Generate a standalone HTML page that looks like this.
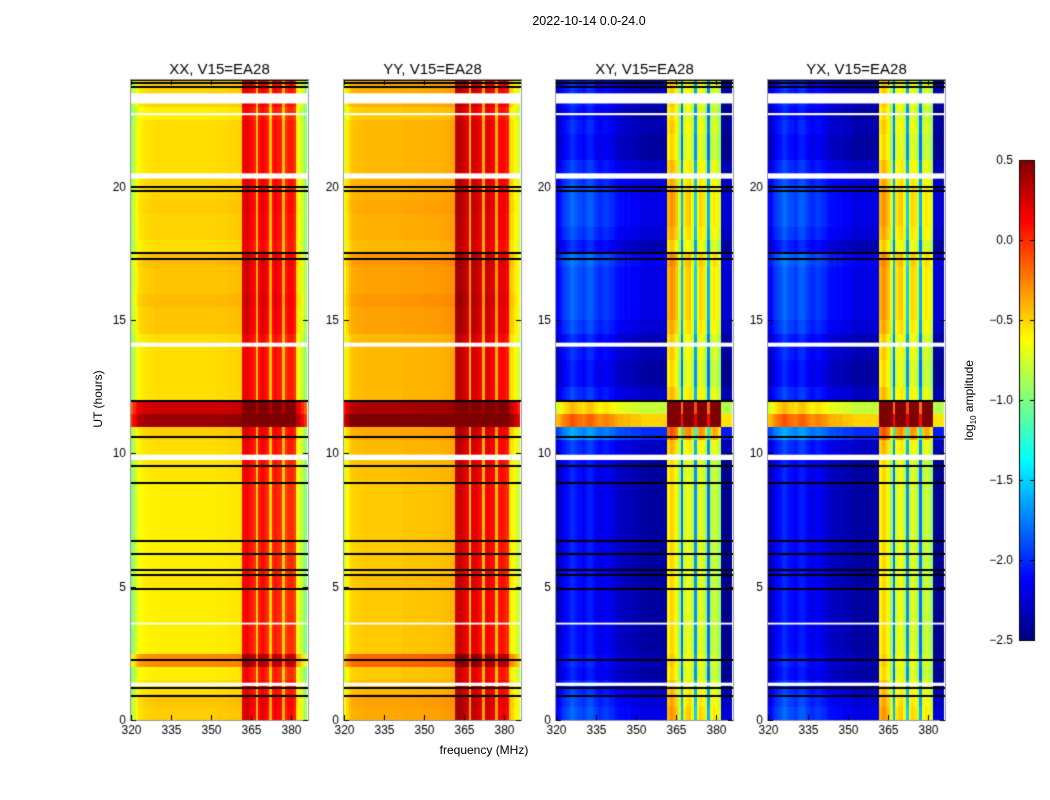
<!DOCTYPE html>
<html><head><meta charset="utf-8"><style>
body{margin:0;background:#fff;font-family:"Liberation Sans","DejaVu Sans",sans-serif;}
#wrap{position:relative;width:1050px;height:800px;overflow:hidden;background:#fff}
.t{position:absolute;font-size:12px;color:#000;white-space:nowrap}
canvas{position:absolute}
</style></head><body>
<div id="wrap">
<div class="t" style="left:489px;top:14px;width:200px;text-align:center;font-size:12.5px">2022-10-14 0.0-24.0</div>
<div class="t" style="left:384px;top:743px;width:200px;text-align:center">frequency (MHz)</div>
<div class="t" style="left:48px;top:392px;width:100px;text-align:center;transform:rotate(-90deg)">UT (hours)</div>
<div class="t" style="left:920px;top:392px;width:100px;text-align:center;transform:rotate(-90deg)">log<sub style="font-size:8px">10</sub> amplitude</div>
<canvas id="cv" width="1050" height="800" style="left:0;top:0"></canvas>
</div>
<script>
// ---- data ----
const panelTitles = ["XX, V15=EA28","YY, V15=EA28","XY, V15=EA28","YX, V15=EA28"];
const freqTicks = [320,335,350,365,380];
const timeTicks = [0,5,10,15,20];
const cbarTicks = [0.5,0.0,-0.5,-1.0,-1.5,-2.0,-2.5];
// per-MHz spectral profiles (320..385 MHz), log10 amplitude
const specXX = [-1.0,-0.85,-0.72,-0.65,-0.62,-0.6,-0.6,-0.59,-0.59,-0.58,-0.58,-0.58,-0.58,-0.58,-0.58,-0.58,-0.58,-0.58,-0.58,-0.58,-0.58,-0.58,-0.58,-0.58,-0.58,-0.58,-0.58,-0.58,-0.58,-0.58,-0.58,-0.58,-0.57,-0.57,-0.57,-0.57,-0.57,-0.56,-0.56,-0.56,-0.55,-0.55,
  0.1,0.15,0.1,0.05,0.0,-0.5,0.05,0.1,0.05,0.0,-0.5,0.0,0.05,0.0,0.0,-0.5,-0.05,0.0,0.0,-0.05,-0.65,-0.7,-0.85,-1.0];
const specYY = [-0.75,-0.62,-0.55,-0.5,-0.49,-0.48,-0.48,-0.48,-0.47,-0.47,-0.47,-0.47,-0.47,-0.47,-0.47,-0.47,-0.47,-0.47,-0.47,-0.47,-0.47,-0.47,-0.46,-0.46,-0.46,-0.46,-0.46,-0.46,-0.46,-0.46,-0.45,-0.45,-0.45,-0.45,-0.45,-0.45,-0.44,-0.44,-0.43,-0.43,-0.42,-0.42,
  0.25,0.3,0.25,0.2,0.15,-0.45,0.2,0.2,0.15,0.1,-0.45,0.15,0.15,0.1,0.1,-0.45,0.05,0.1,0.05,0.0,-0.55,-0.6,-0.7,-0.8];
const specXY = [-2.35,-2.3,-2.2,-2.15,-2.1,-2.05,-2.0,-2.05,-2.1,-2.1,-2.15,-2.1,-2.05,-2.05,-2.1,-2.15,-2.2,-2.2,-2.15,-2.15,-2.2,-2.2,-2.25,-2.3,-2.3,-2.3,-2.35,-2.3,-2.35,-2.35,-2.35,-2.35,-2.4,-2.4,-2.4,-2.4,-2.4,-2.4,-2.4,-2.4,-2.4,-2.4,
  -0.6,-0.5,-0.55,-0.65,-0.95,-1.8,-0.75,-0.7,-0.65,-0.85,-1.7,-0.8,-0.7,-0.75,-0.95,-1.8,-0.85,-0.75,-0.8,-0.95,-2.45,-2.45,-2.45,-2.45];
const specYX = specXY.map(v=>v);
// per half-hour time offsets (0..24 h)
const timeParallel = [0.1,0.12,0.05,0,0.3,0,0,0,0,0,0.03,0,0,0,0,0,0,0,0.03,0.03,0.05,0.1,1.0,0.85,0.05,0.05,0.05,0.05,0.05,0.12,0.12,0.15,0.12,0.12,0.15,0.05,0.08,0.08,0.1,0.08,0.08,0.05,0.05,0.05,0.05,0,0.08,0.08];
const timeCross = [0.2,0.15,0.1,0,0.05,0,0,0,0,0,0,0,0,0,0,0,0,0,0,0,0.1,0.4,1.9,1.6,0.1,0,0,0.05,0.05,0.15,0.2,0.2,0.2,0.2,0.25,0.05,0.15,0.2,0.2,0.2,0.15,0.1,0,0,0.05,0,0.05,0.05];
// flagged time ranges (hours)
const whiteFlagStart = [1.28,3.58,9.75,14.0,20.3,22.68,23.12];
const whiteFlagEnd   = [1.4,3.65,9.95,14.15,20.5,22.76,23.5];
const blackFlagTimes = [0.9,1.2,2.25,4.9,5.45,5.62,6.22,6.7,8.9,9.52,10.62,11.95,17.3,17.5,19.85,20.0,23.72,23.88,24.0];

// ---- layout ----
const panelLeft=[131,344,556,768], PW=177, PT=80, PH=640;
const F0=320, F1=386.4, T0=0, T1=24;
const specs=[specXX,specYY,specXY,specYX], times=[timeParallel,timeParallel,timeCross,timeCross];
const xs=(p,f)=>panelLeft[p]+(f-F0)/(F1-F0)*PW;
const ys=t=>PT+PH-(t-T0)/(T1-T0)*PH;
function jet(v){let x=(v+2.5)/3;x=Math.max(0,Math.min(1,x));
 const r=Math.max(0,Math.min(1,1.5-Math.abs(4*x-3))),g=Math.max(0,Math.min(1,1.5-Math.abs(4*x-2))),b=Math.max(0,Math.min(1,1.5-Math.abs(4*x-1)));
 return `rgb(${r*255|0},${g*255|0},${b*255|0})`;}
const c=document.getElementById('cv').getContext('2d');
c.font='12px "Liberation Sans", sans-serif';
for(let p=0;p<4;p++){
 const sp=specs[p],tm=times[p];
 for(let r=0;r<tm.length;r++){
  const t0=r*0.5,t1=t0+0.5,yT=ys(t1),yB=ys(t0);
  for(let i=0;i<sp.length;i++){
   const xa=xs(p,F0+i),xb=Math.min(xs(p,F0+i+1),panelLeft[p]+PW);
   if(xa>=panelLeft[p]+PW)continue;
   c.fillStyle=jet(sp[i]+tm[r]);
   c.fillRect(Math.floor(xa),Math.floor(yT),Math.ceil(xb)-Math.floor(xa),Math.ceil(yB)-Math.floor(yT));
  }
 }
 c.fillStyle='#fff';
 for(let k=0;k<whiteFlagStart.length;k++){c.fillRect(panelLeft[p],ys(whiteFlagEnd[k]),PW,ys(whiteFlagStart[k])-ys(whiteFlagEnd[k]));}
 c.fillStyle='#000';
 for(const t of blackFlagTimes){c.fillRect(panelLeft[p],Math.round(ys(t))-1,PW,2);}
 c.strokeStyle='#999';c.lineWidth=1;c.strokeRect(panelLeft[p]-0.5,PT-0.5,PW+1,PH+1);
 c.strokeStyle='#000';c.fillStyle='#000';
 c.textAlign='center';c.textBaseline='top';
 for(const f of freqTicks){const x=Math.round(xs(p,f))+0.5;c.beginPath();c.moveTo(x,PT+PH);c.lineTo(x,PT+PH-5);c.moveTo(x,PT);c.lineTo(x,PT+5);c.stroke();c.fillText(f,x,PT+PH+5);}
 c.textAlign='right';c.textBaseline='middle';
 for(const t of timeTicks){const y=Math.round(ys(t))+0.5;c.beginPath();c.moveTo(panelLeft[p],y);c.lineTo(panelLeft[p]+5,y);c.moveTo(panelLeft[p]+PW,y);c.lineTo(panelLeft[p]+PW-5,y);c.stroke();c.fillText(t,panelLeft[p]-5,y);}
 c.font='15px "Liberation Sans", sans-serif';c.textAlign='center';c.textBaseline='alphabetic';
 c.fillText(panelTitles[p],panelLeft[p]+PW/2,74);
 c.font='12px "Liberation Sans", sans-serif';
}
// colorbar
const CX=1019,CW=15,CT=160,CH=480;
for(let y=0;y<CH;y++){c.fillStyle=jet(0.5-3*(y+0.5)/CH);c.fillRect(CX,CT+y,CW,1);}
c.strokeStyle='#000';c.strokeRect(CX+0.5,CT+0.5,CW,CH);
c.textAlign='right';c.textBaseline='middle';c.fillStyle='#000';
for(const v of cbarTicks){const y=Math.round(CT+(0.5-v)/3*CH)+0.5;c.beginPath();c.moveTo(CX+CW-4,y);c.lineTo(CX+CW,y);c.moveTo(CX,y);c.lineTo(CX+4,y);c.stroke();c.fillText((v<0?'\u2212':'')+Math.abs(v).toFixed(1),CX-6,y);}
</script>
</body></html>
